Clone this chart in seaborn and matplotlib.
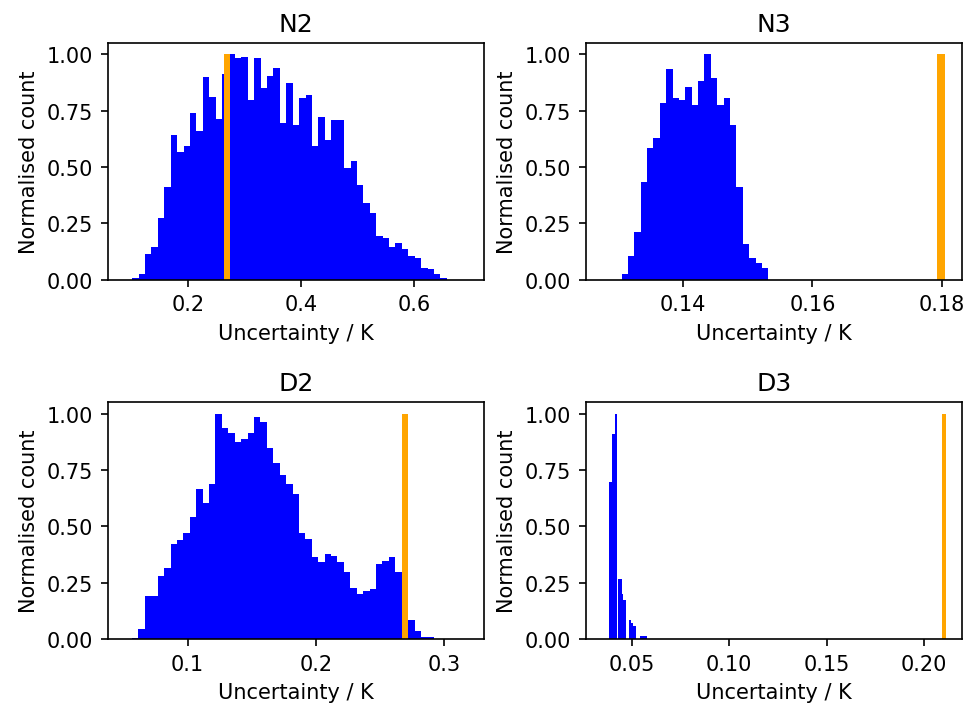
import numpy as np
import matplotlib
matplotlib.use("Agg")
import matplotlib.pyplot as plt
import seaborn as sns

# Normalised histogram heights (max bin = 1) for each configuration
n2_range = (0.1009, 0.6584)
n2_counts = [0.006, 0.027, 0.116, 0.143, 0.274, 0.411, 0.640, 0.568, 0.595, 0.741,
             0.658, 0.899, 0.810, 0.714, 0.914, 1.000, 0.985, 0.988, 0.798, 0.982,
             0.851, 0.905, 0.940, 0.693, 0.872, 0.688, 0.804, 0.821, 0.592, 0.720,
             0.619, 0.708, 0.708, 0.494, 0.527, 0.420, 0.342, 0.298, 0.193, 0.185,
             0.143, 0.164, 0.137, 0.104, 0.095, 0.054, 0.048, 0.027, 0.006]

n3_range = (0.1306, 0.1532)
n3_counts = [0.024, 0.107, 0.211, 0.432, 0.583, 0.628, 0.783, 0.935, 0.804, 0.798,
             0.857, 0.777, 0.881, 1.000, 0.893, 0.777, 0.804, 0.688, 0.411, 0.158,
             0.095, 0.074, 0.054]

d2_range = (0.0567, 0.2920)
d2_counts = [0.006, 0.044, 0.192, 0.192, 0.280, 0.316, 0.422, 0.437, 0.472, 0.540,
             0.664, 0.602, 0.687, 1.000, 0.935, 0.912, 0.876, 0.888, 0.912, 0.985,
             0.962, 0.847, 0.779, 0.729, 0.687, 0.643, 0.472, 0.445, 0.363, 0.342,
             0.378, 0.369, 0.342, 0.295, 0.227, 0.201, 0.212, 0.221, 0.333, 0.348,
             0.363, 0.295, 0.200, 0.083, 0.035, 0.009, 0.009]

# D3 values cluster on a few discrete levels, so its bins are given explicitly
d3_edges = [0.0385, 0.0402, 0.0413, 0.0427, 0.0433, 0.0451, 0.0457, 0.0474,
            0.0488, 0.0498, 0.0509, 0.0523, 0.0543, 0.0577]
d3_counts = [0.696, 0.909, 1.000, 0.0, 0.268, 0.198, 0.174, 0.0,
             0.086, 0.071, 0.056, 0.0, 0.012]

# Reference uncertainty for each configuration (orange bin)
ref_low = [0.2637, 0.1792, 0.2671, 0.2091]
ref_high = [0.2743, 0.1805, 0.2718, 0.2111]

titles = ["N2", "N3", "D2", "D3"]
x_limits = [(0.058, 0.724), (0.1251, 0.1830), (0.038, 0.331), (0.0266, 0.2192)]
x_ticks = [[0.2, 0.4, 0.6], [0.14, 0.16, 0.18], [0.1, 0.2, 0.3], [0.05, 0.10, 0.15, 0.20]]
y_ticks = [0.0, 0.25, 0.5, 0.75, 1.0]


def uniform_edges(rng, counts):
    return np.linspace(rng[0], rng[1], len(counts) + 1)


edges_list = [
    uniform_edges(n2_range, n2_counts),
    uniform_edges(n3_range, n3_counts),
    uniform_edges(d2_range, d2_counts),
    np.array(d3_edges),
]
counts_list = [n2_counts, n3_counts, d2_counts, d3_counts]

dpi = 150
fig, axes = plt.subplots(2, 2, figsize=(965 / dpi, 707 / dpi), dpi=dpi)
fig.subplots_adjust(left=108 / 965, right=961.7 / 965, top=1 - 44 / 707,
                    bottom=1 - 640 / 707, wspace=0.2715, hspace=0.518)

for i, ax in enumerate(axes.flat):
    edges = edges_list[i]
    centers = 0.5 * (edges[:-1] + edges[1:])
    sns.histplot(x=list(centers), weights=list(counts_list[i]), bins=list(edges), ax=ax,
                 color="blue", alpha=1, edgecolor="none", linewidth=0)
    sns.histplot(x=[0.5 * (ref_low[i] + ref_high[i])], weights=[1.0],
                 bins=[ref_low[i], ref_high[i]], ax=ax,
                 color="orange", alpha=1, edgecolor="none", linewidth=0)
    ax.set_xlim(*x_limits[i])
    ax.set_ylim(0, 1.05)
    ax.set_xticks(x_ticks[i])
    ax.set_yticks(y_ticks)
    ax.set_title(titles[i])
    ax.set_xlabel("Uncertainty / K")
    ax.set_ylabel("Normalised count")

fig.savefig("out.png", dpi=dpi)
